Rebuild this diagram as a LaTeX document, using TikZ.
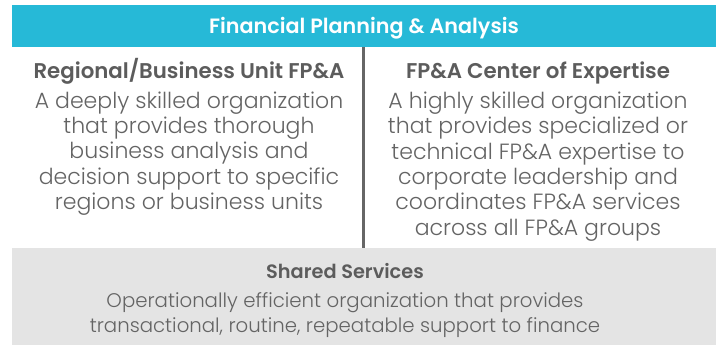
\documentclass[tikz,border=0pt]{standalone}
\usepackage{fontspec}
\setmainfont{Poppins}[UprightFont=* Light, BoldFont=* SemiBold]
\definecolor{banner}{HTML}{26B9D7}
\definecolor{sharedbg}{HTML}{E4E4E4}
\definecolor{titlegray}{HTML}{5C5C5C}
\definecolor{bodygray}{HTML}{646464}
\definecolor{divgray}{HTML}{666666}
\tikzset{
  headtext/.style={text=white, font=\fontsize{20.8}{24}\selectfont\bfseries, inner sep=0pt, anchor=base},
  titletext/.style={text=titlegray, font=\fontsize{21.4}{25}\selectfont\bfseries, inner sep=0pt, anchor=base},
  bodytext/.style={text=bodygray, font=\fontsize{22.1}{25.4}\selectfont, align=center, inner sep=0pt, anchor=base},
  stitletext/.style={text=titlegray, font=\fontsize{19.4}{25}\selectfont\bfseries, inner sep=0pt, anchor=base},
  sbodytext/.style={text=bodygray, font=\fontsize{19.8}{25}\selectfont, align=center, inner sep=0pt, anchor=base},
}
\begin{document}
\begin{tikzpicture}[x=1bp,y=-1bp]
\useasboundingbox (0,0) rectangle (719,345);
\fill[white] (0,0) rectangle (719,345);
\fill[banner] (12,5) rectangle (716,47);
\fill[sharedbg] (12,248) rectangle (716,345);
\coordinate (divtop) at (363.5,47);
\coordinate (divbot) at (363.5,248);
\draw[divgray, line width=2.5bp] (divtop) -- (divbot);
\node[headtext] (head) at (364,33) {Financial Planning \& Analysis};
\node[titletext] (lt) at (189,78) {Regional/Business Unit FP\&A};
\node[titletext] (rt) at (538,78) {FP\&A Center of Expertise};
% anchor=base of a multi-line node is the baseline of its last line
\node[bodytext] (lb) at (189,209.6) {A deeply skilled organization\\that provides thorough\\business analysis and\\decision support to specific\\regions or business units};
\node[bodytext] (rb) at (538,235) {A highly skilled organization\\that provides specialized or\\technical FP\&A expertise to\\corporate leadership and\\coordinates FP\&A services\\across all FP\&A groups};
\node[stitletext] (st) at (345,278) {Shared Services};
\node[sbodytext] (sb) at (345,332) {Operationally efficient organization that provides\\transactional, routine, repeatable support to finance};
\end{tikzpicture}
\end{document}
